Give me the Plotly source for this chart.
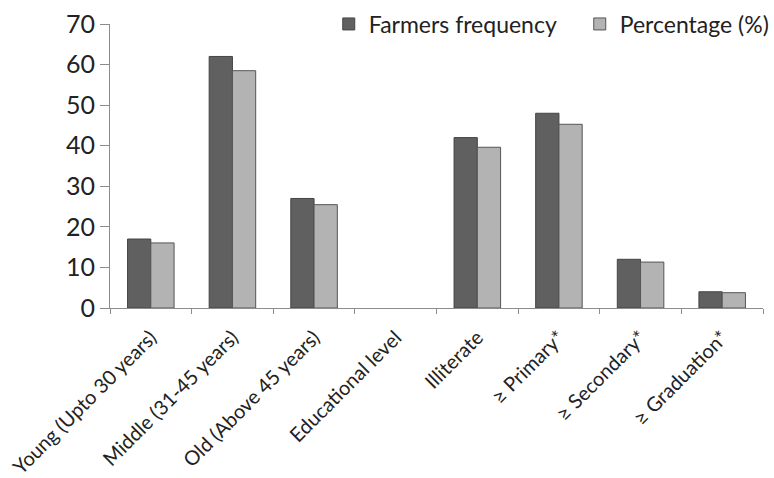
import plotly.graph_objects as go

categories = [
    "Young (Upto 30 years)",
    "Middle (31-45 years)",
    "Old (Above 45 years)",
    "Educational level",
    "Illiterate",
    "≥ Primary*",
    "≥ Secondary*",
    "≥ Graduation*",
]
farmers_frequency = [17, 62, 27, None, 42, 48, 12, 4]
percentage = [16.04, 58.49, 25.47, None, 39.62, 45.28, 11.32, 3.77]

FONT = "Lato"
TEXT = "#222222"

fig = go.Figure()
fig.add_trace(go.Bar(
    x=categories, y=farmers_frequency, name="Farmers frequency",
    marker=dict(color="#606060", line=dict(color="#444444", width=1)),
))
fig.add_trace(go.Bar(
    x=categories, y=percentage, name="Percentage (%)",
    marker=dict(color="#b3b3b3", line=dict(color="#555555", width=1)),
))

fig.update_layout(
    width=774, height=478,
    margin=dict(l=110, r=11, t=24, b=170, autoexpand=False),
    paper_bgcolor="white", plot_bgcolor="white",
    barmode="group", bargap=0.43, bargroupgap=0,
    font=dict(family=FONT, size=20, color=TEXT),
    showlegend=True,
    legend=dict(
        orientation="h", x=0.335, y=1.0, xanchor="left", yanchor="middle",
        font=dict(family=FONT, size=23, color=TEXT),
        itemwidth=30, entrywidth=206, bgcolor="rgba(0,0,0,0)",
        traceorder="normal", tracegroupgap=0,
    ),
    xaxis=dict(
        type="category", showline=True, linecolor="#8c8c8c", linewidth=1,
        ticks="outside", tickson="boundaries", ticklen=5, tickcolor="#8c8c8c",
        tickangle=-45, ticklabelstandoff=9,
        tickfont=dict(family=FONT, size=20, color=TEXT),
        showgrid=False, automargin=False,
    ),
    yaxis=dict(
        range=[0, 70], dtick=10, showline=True, linecolor="#8c8c8c", linewidth=1,
        ticks="outside", ticklen=9, tickcolor="#8c8c8c",
        tickfont=dict(family=FONT, size=25, color=TEXT),
        showgrid=False, zeroline=False, automargin=False,
    ),
)

fig.write_html("out.html")
